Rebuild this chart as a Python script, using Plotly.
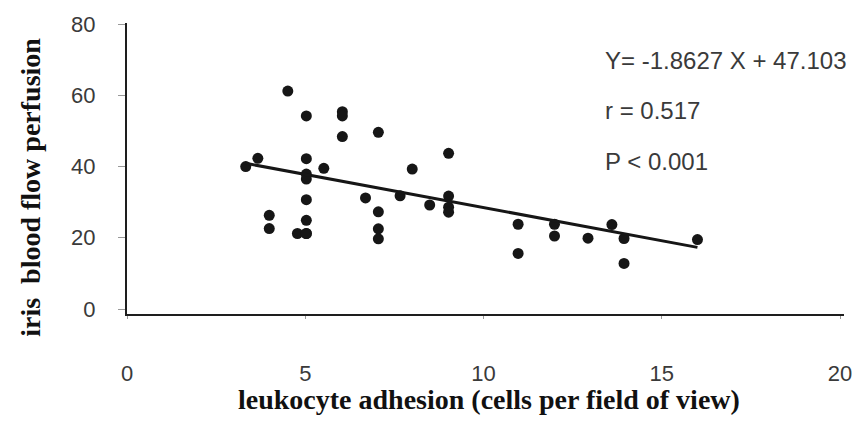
import plotly.graph_objects as go

# Leukocyte adhesion (cells per field of view) vs iris blood flow perfusion
adhesion = [3.33, 3.67, 3.99, 3.99, 4.51, 4.78, 5.03, 5.03, 5.03, 5.03, 5.03,
            5.03, 5.03, 5.03, 5.52, 6.04, 6.04, 6.04, 6.69, 7.05, 7.05, 7.05,
            7.05, 7.66, 8.0, 8.49, 9.02, 9.02, 9.02, 9.02, 10.97, 10.97, 11.99,
            11.99, 12.93, 13.6, 13.94, 13.94, 16.0]
perfusion = [40.0, 42.3, 26.3, 22.6, 61.2, 21.2, 54.2, 42.2, 37.9, 36.5, 30.7,
             24.9, 21.2, 21.2, 39.5, 55.4, 54.2, 48.4, 31.2, 49.6, 27.3, 22.5,
             19.7, 31.8, 39.3, 29.2, 43.7, 31.7, 28.6, 27.2, 23.8, 15.6, 23.8,
             20.5, 19.9, 23.7, 19.8, 12.8, 19.5]

# Linear fit reported on the chart
slope = -1.8627
intercept = 47.103
r_value = 0.517
fit_x = [3.33, 16.0]
fit_y = [slope * x + intercept for x in fit_x]

x_ticks = [0, 5, 10, 15, 20]
y_ticks = [0, 20, 40, 60, 80]

fig = go.Figure()
fig.add_trace(go.Scatter(
    x=adhesion, y=perfusion, mode="markers",
    marker=dict(size=11, color="#161616"), showlegend=False, hoverinfo="x+y"))
fig.add_trace(go.Scatter(
    x=fit_x, y=fit_y, mode="lines",
    line=dict(color="#161616", width=3), showlegend=False))

tick_font = dict(family="Liberation Sans, Arial, sans-serif", size=22, color="#3a3a3a")
title_font = dict(family="Liberation Serif, Times New Roman, serif", size=28,
                  color="#111111", weight="bold")
stat_font = dict(family="Liberation Sans, Arial, sans-serif", size=24, color="#3a3a3a")

annotations = [
    dict(text="iris  blood flow perfusion", xref="paper", yref="paper",
         x=-0.1357, y=0.436, xanchor="center", yanchor="middle",
         textangle=-90, showarrow=False, font=title_font),
    dict(text="leukocyte adhesion (cells per field of view)", xref="paper", yref="paper",
         x=0.5055, y=-0.294, xanchor="center", yanchor="middle",
         showarrow=False, font=title_font),
    dict(text=f"Y= {slope} X + {intercept}", xref="paper", yref="paper",
         x=0.6634, y=0.8716, xanchor="left", yanchor="middle",
         showarrow=False, font=stat_font),
    dict(text=f"r = {r_value}", xref="paper", yref="paper",
         x=0.6634, y=0.6993, xanchor="left", yanchor="middle",
         showarrow=False, font=stat_font),
    dict(text="P < 0.001", xref="paper", yref="paper",
         x=0.6634, y=0.5236, xanchor="left", yanchor="middle",
         showarrow=False, font=stat_font),
]

fig.update_layout(
    width=864, height=430,
    margin=dict(l=127, r=15, t=18, b=116),
    paper_bgcolor="white", plot_bgcolor="white",
    annotations=annotations,
    xaxis=dict(range=[0, 20.11], tickvals=x_ticks, showgrid=False, zeroline=False,
               showline=True, linecolor="#1e1e1e", linewidth=2,
               ticks="outside", ticklen=3, tickcolor="#999999",
               ticklabelstandoff=36, tickfont=tick_font),
    yaxis=dict(range=[-1.4, 80.3], tickvals=y_ticks, showgrid=False, zeroline=False,
               showline=True, linecolor="#1e1e1e", linewidth=2,
               ticks="outside", ticklen=7, tickcolor="#999999",
               ticklabelstandoff=18, tickfont=tick_font),
)

fig.write_html("out.html")
